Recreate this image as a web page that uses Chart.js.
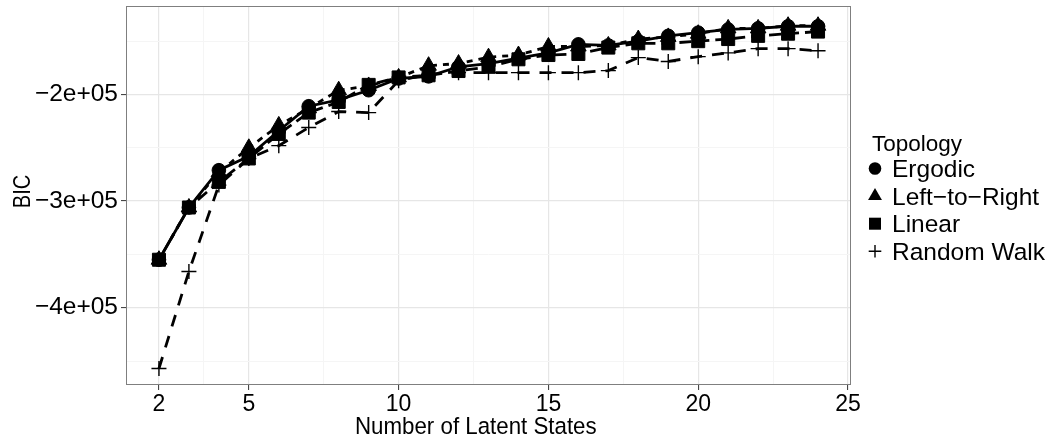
<!DOCTYPE html>
<html>
<head>
<meta charset="utf-8">
<script src="https://cdn.jsdelivr.net/npm/chart.js@4.4.1/dist/chart.umd.min.js"></script>
<style>
html,body{margin:0;padding:0;background:#fff;}
canvas{display:block;}
</style>
</head>
<body>
<canvas id="c" width="1047" height="439"></canvas>
<script>
// ---- data ----
const nStates = [2,3,4,5,6,7,8,9,10,11,12,13,14,15,16,17,18,19,20,21,22,23,24];
const ergodic = [-355000,-306000,-271000,-258000,-234000,-211000,-205000,-196000,-185000,-183000,-174000,-171000,-166000,-161000,-153000,-154000,-150000,-145000,-142000,-139000,-138000,-136000,-136000];
const leftToRight = [-355000,-306000,-273000,-250000,-229000,-213000,-196000,-192000,-184000,-173000,-171000,-165000,-163000,-155000,-155000,-154000,-148000,-146000,-143000,-138000,-138000,-135500,-135500];
const linear = [-355000,-306000,-282000,-260000,-237000,-217000,-207000,-191000,-184000,-182000,-178000,-174000,-167000,-163000,-162000,-156000,-152000,-152000,-150000,-148000,-145000,-143000,-141000];
const randomWalk = [-457000,-366000,-285000,-260000,-248000,-231000,-216000,-217000,-187000,-181000,-179500,-179500,-179500,-179500,-179500,-177600,-165400,-169000,-164500,-161000,-157000,-157000,-159000];

const seriesNames = ['Ergodic','Left\u2212to\u2212Right','Linear','Random Walk'];
const legendTitle = 'Topology';
const xTitle = 'Number of Latent States';
const yTitle = 'BIC';

const xMajorTicks = [2,5,10,15,20,25];
const xMajorLabels = ['2','5','10','15','20','25'];
const xMinorTicks = [3.5,7.5,12.5,17.5,22.5];
const yMajorTicks = [-400000,-300000,-200000];
const yMajorLabels = ['\u22124e+05','\u22123e+05','\u22122e+05'];
const yMinorTicks = [-450000,-350000,-250000,-150000];

const FONT = "'Liberation Sans', Arial, Helvetica, sans-serif";

function pts(arr){ return nStates.map((n,i)=>({x:n,y:arr[i]})); }

const styles = [
  {data:ergodic, pointStyle:'circle', r:6.8, dash:[], order:4},
  {data:leftToRight, pointStyle:'triangle', r:9, dash:[6,6], order:3},
  {data:linear, pointStyle:'rect', r:9.2, dash:[12,6], order:2},
  {data:randomWalk, pointStyle:'cross', r:7.5, dash:[12,10], order:1}
];

const datasets = styles.map((s,i)=>({
  label: seriesNames[i],
  data: pts(s.data),
  borderColor:'#000',
  backgroundColor:'#000',
  borderWidth:2.8,
  borderDash:s.dash,
  pointStyle:s.pointStyle,
  pointRadius:s.r,
  pointHoverRadius:s.r,
  pointBackgroundColor:'#000',
  pointBorderColor:'#000',
  pointBorderWidth: s.pointStyle==='cross'?1.4:1,
  tension:0,
  order:s.order
}));

const xTickList = xMajorTicks.concat(xMinorTicks).sort((a,b)=>a-b);
const yTickList = yMajorTicks.concat(yMinorTicks).sort((a,b)=>a-b);

function drawMarker(ctx, style, x, y, r){
  ctx.save();
  ctx.fillStyle='#000'; ctx.strokeStyle='#000';
  ctx.beginPath();
  if(style==='circle'){ ctx.arc(x,y,r,0,Math.PI*2); ctx.fill(); }
  else if(style==='triangle'){
    ctx.moveTo(x, y-r); ctx.lineTo(x+r*Math.sqrt(3)/2, y+r/2); ctx.lineTo(x-r*Math.sqrt(3)/2, y+r/2); ctx.closePath(); ctx.fill();
  } else if(style==='rect'){
    const s=r*Math.SQRT1_2; ctx.rect(x-s,y-s,2*s,2*s); ctx.fill();
  } else {
    ctx.lineWidth=1.4; ctx.moveTo(x-r,y); ctx.lineTo(x+r,y); ctx.moveTo(x,y-r); ctx.lineTo(x,y+r); ctx.stroke();
  }
  ctx.restore();
}

const framePlugin = {
  id:'frame',
  afterDraw(chart){
    const {ctx, chartArea:a} = chart;
    ctx.save();
    ctx.strokeStyle='#7f7f7f'; ctx.lineWidth=1;
    ctx.strokeRect(Math.round(a.left)+0.5, Math.round(a.top)+0.5, Math.round(a.right-a.left)-1, Math.round(a.bottom-a.top)-1);
    ctx.fillStyle='#000';
    ctx.textBaseline='alphabetic';
    // axis titles (rendered slightly condensed like the reference)
    ctx.font = '24.5px ' + FONT;
    ctx.save();
    ctx.translate(355, 434);
    ctx.scale(0.91, 1);
    ctx.textAlign='left';
    ctx.fillText(xTitle, 0, 0);
    ctx.restore();
    ctx.save();
    ctx.translate(30, (a.top + a.bottom)/2 - 4);
    ctx.rotate(-Math.PI/2);
    ctx.scale(0.82, 1);
    ctx.textAlign='center';
    ctx.fillText(yTitle, 0, 0);
    ctx.restore();
    // legend
    ctx.textAlign='left';
    ctx.font = '22.5px ' + FONT;
    ctx.fillText(legendTitle, 872, 151);
    ctx.font = '24.5px ' + FONT;
    const base0 = 177, step = 27.6;
    chart.data.datasets.forEach((ds,i)=>{
      const by = base0 + i*step;
      drawMarker(ctx, ds.pointStyle, 875, by-8.5, ds.pointStyle==='rect'?8.5:(ds.pointStyle==='triangle'?8:6.3));
      ctx.fillStyle='#000';
      ctx.fillText(ds.label, 892, by);
    });
    ctx.restore();
  }
};

new Chart(document.getElementById('c'), {
  type:'line',
  data:{datasets},
  plugins:[framePlugin],
  options:{
    responsive:false,
    animation:false,
    events:[],
    layout:{autoPadding:false, padding:{left:0,right:196,top:6,bottom:0}},
    plugins:{legend:{display:false}, tooltip:{enabled:false}},
    scales:{
      x:{
        type:'linear', min:0.9, max:25.1,
        afterBuildTicks(scale){ scale.ticks = xTickList.map(v=>({value:v})); },
        afterFit(scale){ scale.height = 54; scale.paddingLeft = 0; scale.paddingRight = 0; },
        border:{display:false},
        grid:{
          color:(c)=> xMajorTicks.includes(c.tick && c.tick.value) ? '#e6e6e6' : '#f5f5f5',
          lineWidth:(c)=> xMajorTicks.includes(c.tick && c.tick.value) ? 1.2 : 1,
          tickColor:(c)=> xMajorTicks.includes(c.tick && c.tick.value) ? '#333333' : 'rgba(0,0,0,0)',
          tickLength:5, tickWidth:1, drawTicks:true
        },
        ticks:{
          autoSkip:false, maxRotation:0, minRotation:0, padding:1,
          color:'#000', font:{family:FONT, size:23},
          callback:(v)=>{ const k=xMajorTicks.indexOf(v); return k>=0?xMajorLabels[k]:''; }
        },
        title:{display:false, text:xTitle}
      },
      y:{
        type:'linear', min:-472500, max:-117000,
        afterBuildTicks(scale){ scale.ticks = yTickList.map(v=>({value:v})); },
        afterFit(scale){ scale.width = 126; scale.paddingTop = 0; scale.paddingBottom = 0; },
        border:{display:false},
        grid:{
          color:(c)=> yMajorTicks.includes(c.tick && c.tick.value) ? '#e6e6e6' : '#f5f5f5',
          lineWidth:(c)=> yMajorTicks.includes(c.tick && c.tick.value) ? 1.2 : 1,
          tickColor:(c)=> yMajorTicks.includes(c.tick && c.tick.value) ? '#333333' : 'rgba(0,0,0,0)',
          tickLength:5, tickWidth:1, drawTicks:true
        },
        ticks:{
          autoSkip:false, padding:3,
          color:'#000', font:{family:FONT, size:24.5},
          callback:(v)=>{ const k=yMajorTicks.indexOf(v); return k>=0?yMajorLabels[k]:''; }
        },
        title:{display:false, text:yTitle}
      }
    }
  }
});
</script>
</body>
</html>
